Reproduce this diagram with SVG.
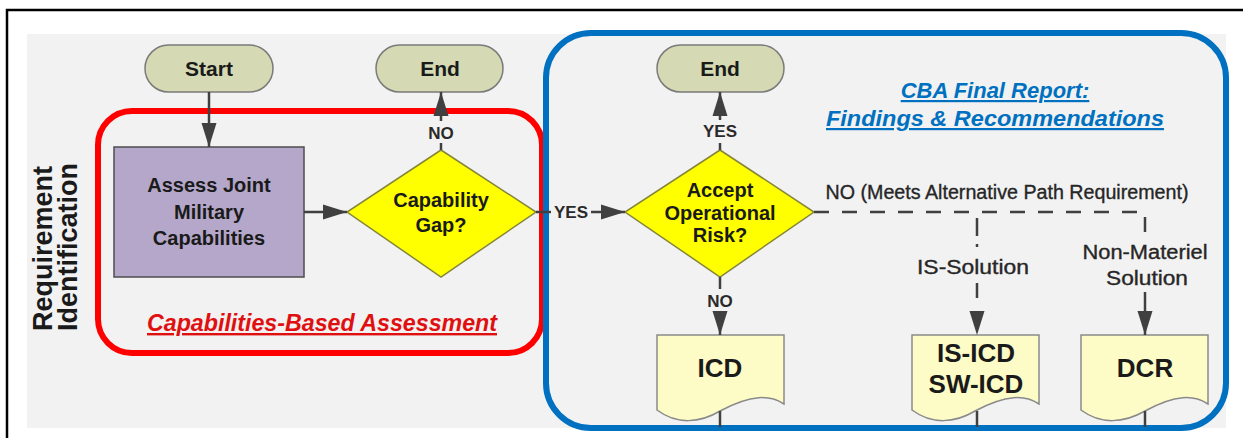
<svg xmlns="http://www.w3.org/2000/svg" width="1243" height="438" viewBox="0 0 1243 438">
  <defs>
    <style>
      text { font-family: "Liberation Sans", Arial, sans-serif; fill: #1a1a1a; }
      .pill { fill: #d6dab4; stroke: #7a7a7a; stroke-width: 1.5; }
      .proc { fill: #b4a7c9; stroke: #4d4d4d; stroke-width: 1.5; }
      .dec { fill: #ffff00; stroke: #85853a; stroke-width: 1.5; }
      .doc { fill: #fdfbc6; stroke: #8a8a8a; stroke-width: 1.5; }
      .t-node { font-size: 21px; font-weight: bold; text-anchor: middle; }
      .t-dec { font-size: 20px; font-weight: bold; text-anchor: middle; }
      .t-doc { font-size: 26px; font-weight: bold; text-anchor: middle; }
      .t-lbl { font-size: 17px; font-weight: bold; text-anchor: middle; fill: #2a2a2a; }
      .t-path { font-size: 20px; text-anchor: middle; fill: #262626; stroke: #262626; stroke-width: 0.35; }
      .wire { stroke: #404040; stroke-width: 2.5; fill: none; }
      .dash { stroke: #404040; stroke-width: 2.5; fill: none; stroke-dasharray: 15 13; }
      .dashdot { stroke: #404040; stroke-width: 2.5; fill: none; stroke-dasharray: 18 8 3 8; }
    </style>
    <marker id="arrow" markerUnits="userSpaceOnUse" markerWidth="24" markerHeight="16" refX="24" refY="8" orient="auto">
      <path d="M0,0.5 L24,8 L0,15.5 Z" fill="#404040"/>
    </marker>
  </defs>

  <!-- frame and panel -->
  <path d="M7,438 V10 H1243" fill="none" stroke="#000" stroke-width="2.5"/>
  <rect x="27" y="34" width="1199" height="394" fill="#f2f2f2"/>

  <!-- lane title -->
  <g id="lane-title" font-size="27" font-weight="bold">
    <text transform="translate(52,331) rotate(-90)">Requirement</text>
    <text transform="translate(77,331) rotate(-90)">Identification</text>
  </g>

  <!-- grouping frames -->
  <g id="cba-frame">
    <rect x="98" y="111" width="444" height="242" rx="34" fill="none" stroke="#ff0000" stroke-width="6"/>
    <text x="322" y="331" font-size="24" font-weight="bold" font-style="italic" text-anchor="middle" text-decoration="underline" style="fill:#e01010" textLength="350" lengthAdjust="spacingAndGlyphs">Capabilities-Based Assessment</text>
  </g>
  <g id="report-frame">
    <rect x="546" y="33" width="680" height="395" rx="45" fill="none" stroke="#0070c0" stroke-width="6"/>
    <text x="995" y="98" font-size="22" font-weight="bold" font-style="italic" text-anchor="middle" text-decoration="underline" style="fill:#0070c0">CBA Final Report:</text>
    <text x="995" y="126" font-size="22" font-weight="bold" font-style="italic" text-anchor="middle" text-decoration="underline" style="fill:#0070c0" textLength="338" lengthAdjust="spacingAndGlyphs">Findings &amp; Recommendations</text>
  </g>

  <!-- nodes -->
  <g id="start">
    <rect class="pill" x="145" y="45" width="128" height="47" rx="23.5"/>
    <text class="t-node" x="209" y="76">Start</text>
  </g>
  <g id="end-1">
    <rect class="pill" x="376" y="45" width="127" height="47" rx="23.5"/>
    <text class="t-node" x="440" y="76">End</text>
  </g>
  <g id="end-2">
    <rect class="pill" x="657" y="45" width="127" height="47" rx="23.5"/>
    <text class="t-node" x="720" y="76">End</text>
  </g>
  <g id="assess">
    <rect class="proc" x="114" y="147" width="190" height="130"/>
    <text class="t-dec" x="209" y="192">Assess Joint</text>
    <text class="t-dec" x="209" y="219">Military</text>
    <text class="t-dec" x="209" y="245">Capabilities</text>
  </g>
  <g id="gap">
    <polygon class="dec" points="441,150 536,212 441,277 347,212"/>
    <text class="t-dec" x="441" y="207">Capability</text>
    <text class="t-dec" x="441" y="232">Gap?</text>
  </g>
  <g id="risk">
    <polygon class="dec" points="720,150 814,212 720,277 625,212"/>
    <text class="t-dec" x="720" y="197">Accept</text>
    <text class="t-dec" x="720" y="220">Operational</text>
    <text class="t-dec" x="720" y="242">Risk?</text>
  </g>
  <g id="icd">
    <path class="doc" d="M657,335 H784 V404 C770,395 752,394 720,411 C700,423 677,425 657,410 Z"/>
    <text class="t-doc" x="720" y="377">ICD</text>
  </g>
  <g id="is-icd">
    <path class="doc" d="M912,335 H1039 V404 C1025,395 1007,394 975,411 C955,423 932,425 912,410 Z"/>
    <text class="t-doc" x="976" y="362">IS-ICD</text>
    <text class="t-doc" x="976" y="393">SW-ICD</text>
  </g>
  <g id="dcr">
    <path class="doc" d="M1081,335 H1208 V404 C1194,395 1176,394 1145,411 C1124,423 1101,425 1081,410 Z"/>
    <text class="t-doc" x="1145" y="377">DCR</text>
  </g>

  <!-- connectors -->
  <g id="connectors">
    <line class="wire" x1="209" y1="92" x2="209" y2="147" marker-end="url(#arrow)"/>
    <line class="wire" x1="304" y1="212" x2="347" y2="212" marker-end="url(#arrow)"/>

    <line class="wire" x1="441" y1="150" x2="441" y2="143"/>
    <text class="t-lbl" x="441" y="139">NO</text>
    <line class="wire" x1="441" y1="121" x2="441" y2="92" marker-end="url(#arrow)"/>

    <line class="wire" x1="536" y1="212" x2="551" y2="212"/>
    <text class="t-lbl" x="571" y="218">YES</text>
    <line class="wire" x1="591" y1="212" x2="625" y2="212" marker-end="url(#arrow)"/>

    <line class="wire" x1="720" y1="150" x2="720" y2="143"/>
    <text class="t-lbl" x="720" y="137">YES</text>
    <line class="wire" x1="720" y1="120" x2="720" y2="92" marker-end="url(#arrow)"/>

    <line class="wire" x1="720" y1="277" x2="720" y2="289"/>
    <text class="t-lbl" x="720" y="307">NO</text>
    <line class="wire" x1="720" y1="312" x2="720" y2="335" marker-end="url(#arrow)"/>

    <text class="t-path" x="1007" y="199" textLength="363" lengthAdjust="spacingAndGlyphs">NO (Meets Alternative Path Requirement)</text>
    <path class="dash" d="M814,212 H1145 V240"/>
    <text class="t-path" x="1145" y="259" textLength="125" lengthAdjust="spacingAndGlyphs">Non-Materiel</text>
    <text class="t-path" x="1147" y="285" textLength="82" lengthAdjust="spacingAndGlyphs">Solution</text>
    <line class="wire" x1="1145" y1="292" x2="1145" y2="335" marker-end="url(#arrow)"/>

    <line class="dashdot" x1="977" y1="218" x2="977" y2="254"/>
    <text class="t-path" x="973" y="274" textLength="112" lengthAdjust="spacingAndGlyphs">IS-Solution</text>
    <line class="dash" x1="977" y1="283" x2="977" y2="335" stroke-dasharray="14 8" marker-end="url(#arrow)"/>

    <line class="wire" x1="720" y1="411" x2="720" y2="427"/>
    <line class="wire" x1="977" y1="411" x2="977" y2="427"/>
    <line class="wire" x1="1145" y1="411" x2="1145" y2="427"/>
  </g>
</svg>
